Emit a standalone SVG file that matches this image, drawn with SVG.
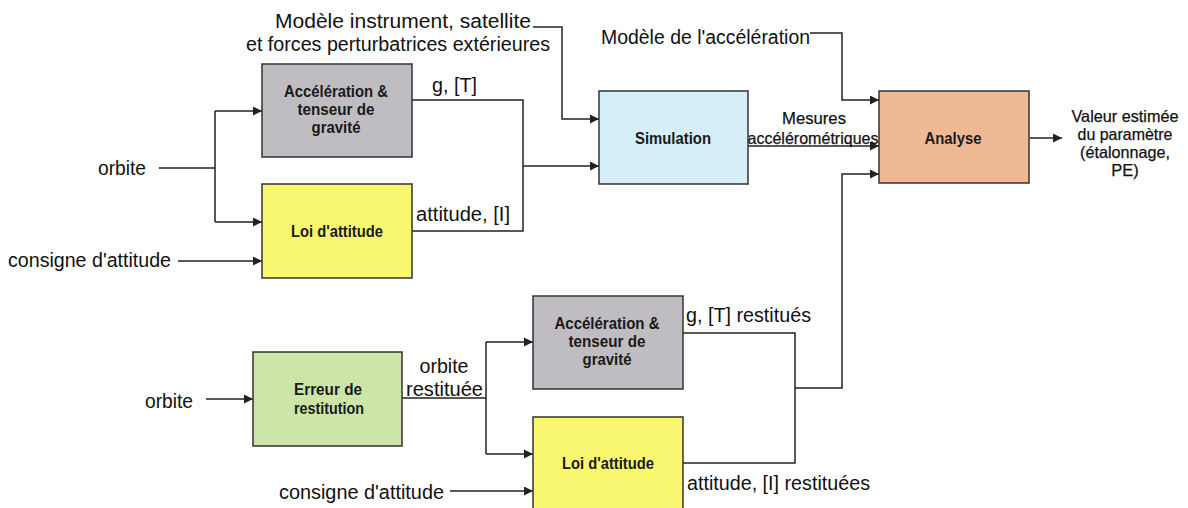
<svg xmlns="http://www.w3.org/2000/svg" width="1188" height="508" viewBox="0 0 1188 508">
<defs>
<marker id="arr" viewBox="0 0 10 10" refX="10" refY="5" markerWidth="11" markerHeight="9" markerUnits="userSpaceOnUse" orient="auto">
<path d="M0,0 L10,5 L0,10 z" fill="#222"/>
</marker>
<style>
.box{stroke:#333;stroke-width:1.5}
.bt{font-family:"Liberation Sans",Arial,sans-serif;font-size:16.5px;font-weight:bold;fill:#1a1a1a;text-anchor:middle}
.lb{font-family:"Liberation Sans",Arial,sans-serif;font-size:19.5px;fill:#111}
.sm{font-family:"Liberation Sans",Arial,sans-serif;font-size:16.5px;fill:#111;stroke:#111;stroke-width:0.25;text-anchor:middle}
.c{fill:none;stroke:#222;stroke-width:1.5}
.a{marker-end:url(#arr)}
</style>
</defs>
<rect width="1188" height="508" fill="#fff"/>

<g id="connectors">
<path class="c" d="M159,168 H215 M215,111 V222"/>
<path class="c a" d="M215,111 H262"/>
<path class="c a" d="M215,222 H262"/>
<path class="c a" d="M178,261 H262"/>
<path class="c" d="M412,100 H523 V231 H412"/>
<path class="c a" d="M523,166 H599"/>
<path class="c a" d="M533,27 H562 V119 H599"/>
<path class="c a" d="M748,146 H879"/>
<path class="c a" d="M810,33 H842 V100 H879"/>
<path class="c a" d="M1030,138 H1062"/>
<path class="c" d="M683,333 H795 V463 H683"/>
<path class="c a" d="M795,388 H842 V174 H879"/>
<path class="c a" d="M206,399 H253"/>
<path class="c" d="M402,398 H486 M486,342 V454"/>
<path class="c a" d="M486,342 H533"/>
<path class="c a" d="M486,454 H533"/>
<path class="c a" d="M450,491 H533"/>
</g>

<g id="labels">
<text class="lb" x="275" y="28" textLength="256" lengthAdjust="spacingAndGlyphs">Modèle instrument, satellite</text>
<text class="lb" x="246" y="51" textLength="304" lengthAdjust="spacingAndGlyphs">et forces perturbatrices extérieures</text>
<text class="lb" x="432" y="92" textLength="45" lengthAdjust="spacingAndGlyphs">g, [T]</text>
<text class="lb" x="98" y="175" textLength="48" lengthAdjust="spacingAndGlyphs">orbite</text>
<text class="lb" x="416" y="221" textLength="94" lengthAdjust="spacingAndGlyphs">attitude, [I]</text>
<text class="lb" x="8" y="267" textLength="163" lengthAdjust="spacingAndGlyphs">consigne d'attitude</text>
<text class="lb" x="601" y="44" textLength="209" lengthAdjust="spacingAndGlyphs">Modèle de l'accélération</text>
<text class="sm" x="814" y="124" textLength="64" lengthAdjust="spacingAndGlyphs">Mesures</text>
<text class="sm" x="813" y="144" textLength="131" lengthAdjust="spacingAndGlyphs">accélérométriques</text>
<text class="sm" x="1125" y="122" textLength="107" lengthAdjust="spacingAndGlyphs">Valeur estimée</text>
<text class="sm" x="1125" y="140" textLength="95" lengthAdjust="spacingAndGlyphs">du paramètre</text>
<text class="sm" x="1125" y="158" textLength="90" lengthAdjust="spacingAndGlyphs">(étalonnage,</text>
<text class="sm" x="1125" y="176">PE)</text>
<text class="lb" x="145" y="408" textLength="48" lengthAdjust="spacingAndGlyphs">orbite</text>
<text class="lb" x="444" y="373" text-anchor="middle" textLength="49" lengthAdjust="spacingAndGlyphs">orbite</text>
<text class="lb" x="406" y="396" textLength="77" lengthAdjust="spacingAndGlyphs">restituée</text>
<text class="lb" x="279" y="499" textLength="165" lengthAdjust="spacingAndGlyphs">consigne d'attitude</text>
<text class="lb" x="686" y="322" textLength="125" lengthAdjust="spacingAndGlyphs">g, [T] restitués</text>
<text class="lb" x="687" y="490" textLength="183" lengthAdjust="spacingAndGlyphs">attitude, [I] restituées</text>
</g>

<g id="acc1">
<rect class="box" x="262" y="64" width="150" height="93" fill="#bfbdc1"/>
<text class="bt" x="336" y="97" textLength="104" lengthAdjust="spacingAndGlyphs">Accélération &amp;</text>
<text class="bt" x="336" y="115" textLength="77" lengthAdjust="spacingAndGlyphs">tenseur de</text>
<text class="bt" x="336" y="133" textLength="49" lengthAdjust="spacingAndGlyphs">gravité</text>
</g>
<g id="loi1">
<rect class="box" x="262" y="184" width="150" height="94" fill="#f9f76f"/>
<text class="bt" x="337" y="237" textLength="92" lengthAdjust="spacingAndGlyphs">Loi d'attitude</text>
</g>
<g id="simulation">
<rect class="box" x="599" y="91" width="149" height="93" fill="#d5eef8"/>
<text class="bt" x="673" y="144" textLength="76" lengthAdjust="spacingAndGlyphs">Simulation</text>
</g>
<g id="analyse">
<rect class="box" x="879" y="91" width="150" height="92" fill="#efb994"/>
<text class="bt" x="953" y="144" textLength="57" lengthAdjust="spacingAndGlyphs">Analyse</text>
</g>
<g id="erreur">
<rect class="box" x="253" y="352" width="149" height="94" fill="#cde6a8"/>
<text class="bt" x="328" y="395" textLength="68" lengthAdjust="spacingAndGlyphs">Erreur de</text>
<text class="bt" x="329" y="414" textLength="70" lengthAdjust="spacingAndGlyphs">restitution</text>
</g>
<g id="acc2">
<rect class="box" x="533" y="296" width="150" height="93" fill="#bfbdc1"/>
<text class="bt" x="607" y="329" textLength="105" lengthAdjust="spacingAndGlyphs">Accélération &amp;</text>
<text class="bt" x="607" y="347" textLength="77" lengthAdjust="spacingAndGlyphs">tenseur de</text>
<text class="bt" x="607" y="365" textLength="49" lengthAdjust="spacingAndGlyphs">gravité</text>
</g>
<g id="loi2">
<rect class="box" x="533" y="417" width="150" height="95" fill="#f9f76f"/>
<text class="bt" x="608" y="469" textLength="92" lengthAdjust="spacingAndGlyphs">Loi d'attitude</text>
</g>
</svg>
